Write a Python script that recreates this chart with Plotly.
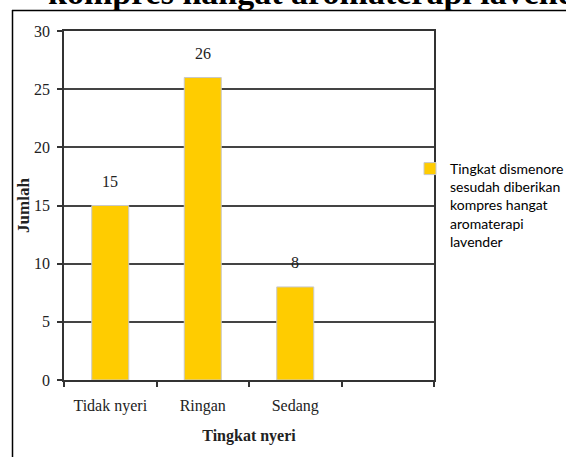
import plotly.graph_objects as go

categories = ["Tidak nyeri", "Ringan", "Sedang"]
values = [15, 26, 8]
y_ticks = [0, 5, 10, 15, 20, 25, 30]
series_name = "Tingkat dismenore<br>sesudah diberikan<br>kompres hangat<br>aromaterapi<br>lavender"
title_text = "kompres hangat aromaterapi lavender"

W, H = 566, 457
L, R, T, B = 64, 132, 31, 77
pw, ph = W - L - R, H - T - B

def px_x(p):
    return (p - L) / pw

def px_y(p):
    return (H - B - p) / ph

serif = "Liberation Serif, Times New Roman, serif"
sans = "Lato, Liberation Sans, Arial, sans-serif"

xs = list(range(len(categories)))

fig = go.Figure()
fig.add_trace(go.Bar(
    x=xs, y=values, name=series_name, width=0.4,
    marker=dict(color="#FFCC00", line=dict(color="#C8C8C8", width=1)),
    showlegend=True,
))

for x, v in zip(xs, values):
    fig.add_annotation(x=x, y=v, text=str(v), showarrow=False, yanchor="middle",
                       yshift=24, font=dict(family=serif, size=16, color="#222"))

fig.add_annotation(x=px_x(46), y=px_y(13), xref="paper", yref="paper", text="<b>" + title_text + "</b>",
                   showarrow=False, xanchor="left", yanchor="bottom",
                   font=dict(family=serif, size=34, color="black"))

# outer frame
fig.add_shape(type="line", xref="paper", yref="paper", x0=px_x(12), x1=px_x(570), y0=px_y(10.5), y1=px_y(10.5),
              line=dict(color="black", width=1.5))
fig.add_shape(type="line", xref="paper", yref="paper", x0=px_x(12.5), x1=px_x(12.5), y0=px_y(10), y1=px_y(460),
              line=dict(color="black", width=1.5))

fig.update_layout(
    width=W, height=H, margin=dict(l=L, r=R, t=T, b=B, autoexpand=False),
    paper_bgcolor="white", plot_bgcolor="white",
    bargap=0.6,
    legend=dict(x=px_x(410), y=px_y(153), xanchor="left", yanchor="top", valign="top",
                font=dict(family=sans, size=14, color="black"), bgcolor="rgba(0,0,0,0)",
                tracegroupgap=0),
    xaxis=dict(range=[-0.5, 3.5], tickvals=xs, ticktext=categories, ticks="", automargin=False,
               showline=True, linecolor="#333", linewidth=1.5, mirror=True, showgrid=False, zeroline=False,
               tickfont=dict(family=serif, size=16, color="#222"), ticklabelstandoff=10,
               minor=dict(tick0=-0.5, dtick=1, ticks="outside", ticklen=5, tickcolor="#333", tickwidth=1.5, showgrid=False),
               title=dict(text="<b>Tingkat nyeri</b>", font=dict(family=serif, size=16, color="#222"), standoff=16)),
    yaxis=dict(range=[0, 30], tickvals=y_ticks, ticks="outside", ticklen=5, tickcolor="#333", tickwidth=1.5,
               automargin=False, ticklabelstandoff=4,
               showline=True, linecolor="#333", linewidth=1.5, mirror=True,
               showgrid=True, gridcolor="#444", gridwidth=1.5, zeroline=False,
               tickfont=dict(family=serif, size=16, color="#222"),
               title=dict(text="<b>Jumlah</b>", font=dict(family=serif, size=17, color="#222"), standoff=0)),
)

fig.write_html("out.html")
